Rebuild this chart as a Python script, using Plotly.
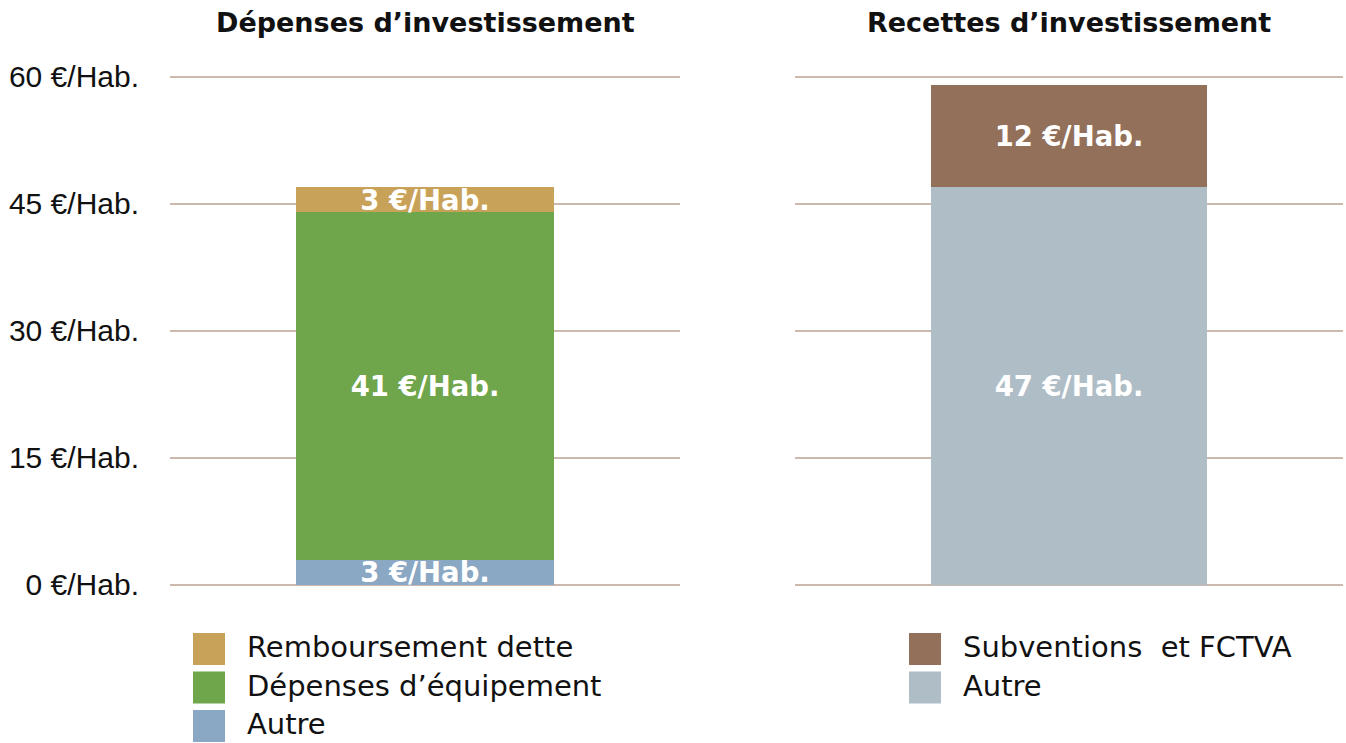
import plotly.graph_objects as go

# ---- data ----
panels = ["Dépenses d’investissement", "Recettes d’investissement"]
dep_names = ["Autre", "Dépenses d’équipement", "Remboursement dette"]
dep_values = [3, 41, 3]
dep_colors = ["#8AA7C4", "#6FA54B", "#C9A25A"]
rec_names = ["Autre", "Subventions  et FCTVA"]
rec_values = [47, 12]
rec_colors = ["#AFBDC7", "#93705A"]
tick_vals = [0, 15, 30, 45, 60]
tick_text = [f"{v} €/Hab." for v in tick_vals]

FONT = "DejaVu Sans, Verdana, sans-serif"
GRID = "#CDB8AE"
W, H = 1346, 743
LABEL_SIZE = 27.5

fig = go.Figure()

for name, val, col in zip(dep_names, dep_values, dep_colors):
    fig.add_trace(go.Bar(x=[panels[0]], y=[val], name=name, marker_color=col,
                         marker_line_width=0, width=0.504,
                         text=[f"<b>{val} €/Hab.</b>"], textposition="inside",
                         insidetextanchor="middle", constraintext="none",
                         textfont=dict(color="white", size=LABEL_SIZE, family=FONT),
                         showlegend=False, xaxis="x", yaxis="y"))
for name, val, col in zip(rec_names, rec_values, rec_colors):
    fig.add_trace(go.Bar(x=[panels[1]], y=[val], name=name, marker_color=col,
                         marker_line_width=0, width=0.504,
                         text=[f"<b>{val} €/Hab.</b>"], textposition="inside",
                         insidetextanchor="middle", constraintext="none",
                         textfont=dict(color="white", size=LABEL_SIZE, family=FONT),
                         showlegend=False, xaxis="x2", yaxis="y2"))

px_per_unit = (585 - 77) / 60
ytop_val = 60.5
yb, yt = 1 - 585 / H, 1 - (585 - ytop_val * px_per_unit) / H
common_y = dict(range=[0, ytop_val], tickvals=tick_vals, showgrid=True, gridcolor=GRID,
                gridwidth=2, zeroline=True, zerolinecolor=GRID, zerolinewidth=2,
                fixedrange=True, domain=[yb, yt], automargin=False)
fig.update_layout(
    barmode="stack",
    width=W, height=H, autosize=False,
    margin=dict(l=0, r=0, t=0, b=0, pad=0),
    paper_bgcolor="white", plot_bgcolor="white",
    uniformtext=dict(mode="show", minsize=LABEL_SIZE),
    xaxis=dict(domain=[170 / W, 680 / W], showticklabels=False, showgrid=False,
               range=[-0.5, 0.5], automargin=False, fixedrange=True),
    xaxis2=dict(domain=[795 / W, 1343 / W], showticklabels=False, showgrid=False,
                range=[-0.5, 0.5], automargin=False, fixedrange=True),
    yaxis=dict(**common_y, ticktext=tick_text, ticklabelstandoff=30,
               tickfont=dict(family="Liberation Sans, Arial, sans-serif", size=30, color="#111")),
    yaxis2=dict(**common_y, anchor="x2", showticklabels=False),
    showlegend=False,
)

# titles
for p, xd in zip(panels, [(170, 680), (795, 1343)]):
    fig.add_annotation(text=f"<b>{p}</b>", xref="paper", yref="paper",
                       x=(xd[0] + xd[1]) / 2 / W, y=1 - 22 / H,
                       xanchor="center", yanchor="middle", showarrow=False,
                       font=dict(family=FONT, size=27, color="#111"))

# custom legends (top entry = top of stack)
def add_legend(names, colors, x0px, ypx0):
    for k, (n, c) in enumerate(zip(names[::-1], colors[::-1])):
        yc = ypx0 + k * 38.5
        fig.add_shape(type="rect", xref="paper", yref="paper",
                      x0=x0px / W, x1=(x0px + 32) / W,
                      y0=1 - (yc + 16) / H, y1=1 - (yc - 16) / H,
                      fillcolor=c, line_width=0)
        fig.add_annotation(text=n, xref="paper", yref="paper",
                           x=(x0px + 52) / W, y=1 - (yc - 2) / H,
                           xanchor="left", yanchor="middle", showarrow=False,
                           font=dict(family=FONT, size=29, color="#111"))

add_legend(dep_names, dep_colors, 193, 649)
add_legend(rec_names, rec_colors, 909, 649)

fig.write_html("out.html", config={"displayModeBar": False},
               post_script="document.body.style.margin='0';document.body.style.overflow='hidden';")
